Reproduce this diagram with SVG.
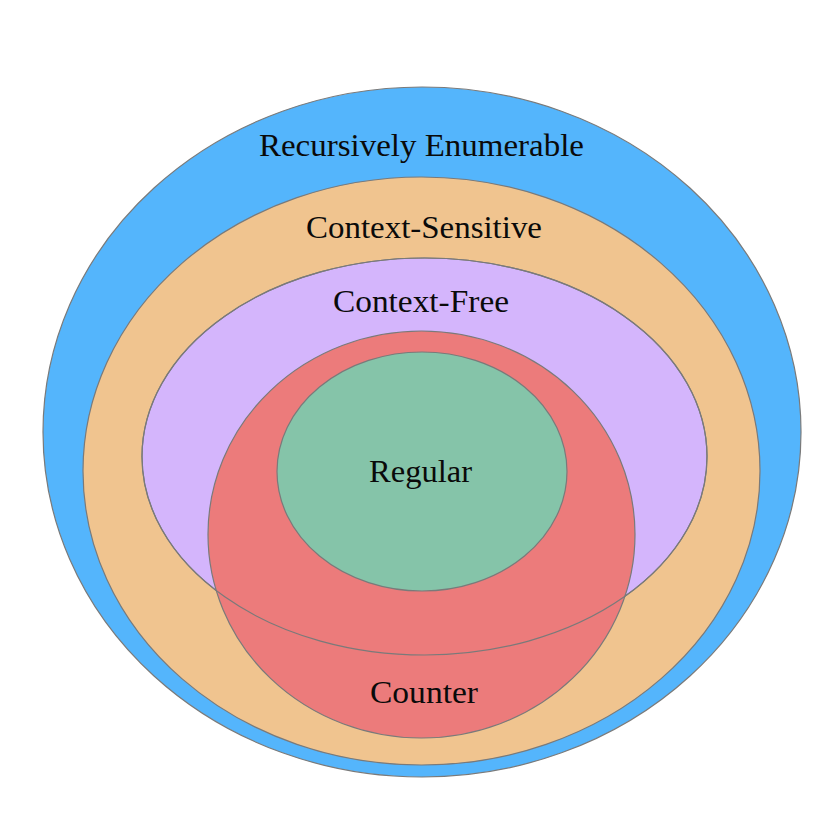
<svg xmlns="http://www.w3.org/2000/svg" xmlns:xlink="http://www.w3.org/1999/xlink" width="831" height="831" viewBox="0 0 831 831">
  <style>
    .set { stroke: #7a7a7a; stroke-width: 1.2; }
    .edge { fill: none; stroke: #7a7a7a; stroke-width: 1.2; }
    .label { font-family: "Liberation Serif", "DejaVu Serif", serif; font-size: 31px; fill: #0a0a0a; text-anchor: middle; }
  </style>
  <defs>
    <ellipse id="cf-shape" cx="424.5" cy="456.5" rx="282.5" ry="198.5"/>
  </defs>
  <rect width="831" height="831" fill="#ffffff"/>

  <g id="recursively-enumerable">
    <ellipse class="set" cx="422" cy="432" rx="379" ry="345" fill="#54b5fc"/>
    <text class="label" x="421.5" y="156" textLength="325" lengthAdjust="spacingAndGlyphs">Recursively Enumerable</text>
  </g>

  <g id="context-sensitive">
    <ellipse class="set" cx="421.5" cy="471" rx="338.5" ry="294" fill="#f0c48f"/>
    <text class="label" x="424" y="238" textLength="236" lengthAdjust="spacingAndGlyphs">Context-Sensitive</text>
  </g>

  <g id="context-free">
    <use xlink:href="#cf-shape" class="set" fill="#d4b5fc"/>
    <text class="label" x="421" y="312" textLength="176" lengthAdjust="spacingAndGlyphs">Context-Free</text>
  </g>

  <g id="counter">
    <ellipse class="set" cx="421.5" cy="534.5" rx="213.5" ry="203.5" fill="#ec7b7b"/>
    <text class="label" x="424" y="703" textLength="108" lengthAdjust="spacingAndGlyphs">Counter</text>
  </g>

  <!-- context-free boundary stays visible where the counter set overlaps it -->
  <g id="boundaries">
    <use xlink:href="#cf-shape" class="edge"/>
  </g>

  <g id="regular">
    <ellipse class="set" cx="422" cy="471.5" rx="145" ry="119.5" fill="#85c4a9"/>
    <text class="label" x="420.5" y="482" textLength="103" lengthAdjust="spacingAndGlyphs">Regular</text>
  </g>
</svg>
